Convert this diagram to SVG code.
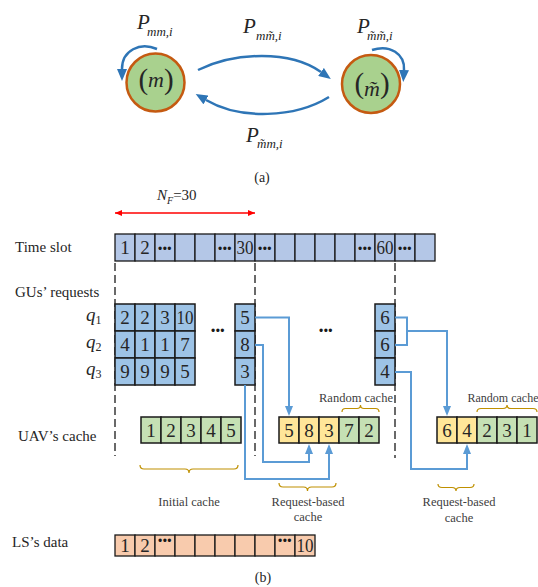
<svg xmlns="http://www.w3.org/2000/svg" width="538" height="587" viewBox="0 0 538 587" font-family="Liberation Serif, DejaVu Serif, serif">
<defs>
<style>
text{font-family:'Liberation Serif','DejaVu Serif',serif;fill:#262626}
.it{font-style:italic}
.lbl{font-size:15px}
.num{font-size:19px;text-anchor:middle}
.dots{font-family:'Liberation Sans',Arial,sans-serif;font-size:12px;text-anchor:middle;fill:#1a1a1a;letter-spacing:0.5px}
.small{font-size:12.5px;text-anchor:middle;fill:#404040}
.ts{fill:#b4c7e7;stroke:#1a1a1a;stroke-width:1.3}
.gu{fill:#9dc3e6;stroke:#1a1a1a;stroke-width:1.5}
.cg{fill:#c5e0b4;stroke:#1a1a1a;stroke-width:1.5}
.cy{fill:#ffe699;stroke:#1a1a1a;stroke-width:1.5}
.ls{fill:#f8cbad;stroke:#1a1a1a;stroke-width:1.3}
.dash{stroke:#1a1a1a;stroke-width:1.3;stroke-dasharray:8 4;fill:none}
.conn{fill:none;stroke:#5b9bd5;stroke-width:2}
.arcA{fill:none;stroke:#2e75b6;stroke-width:2.5}
.brace{fill:none;stroke:#bf9000;stroke-width:1.2}
.state{fill:#a9d18e;stroke:#c55a11;stroke-width:2.5}
</style>
<marker id="arrA" viewBox="0 0 12 10" refX="0" refY="5" markerWidth="12" markerHeight="10" markerUnits="userSpaceOnUse" orient="auto"><path d="M0,0 L12,5 L0,10 z" fill="#2e75b6"/></marker>
<marker id="arrB" viewBox="0 0 10 8" refX="0" refY="4" markerWidth="10" markerHeight="8" markerUnits="userSpaceOnUse" orient="auto"><path d="M0,0 L10,4 L0,8 z" fill="#5b9bd5"/></marker>
<marker id="arrR" viewBox="0 0 7 6" refX="7" refY="3" markerWidth="7" markerHeight="6" markerUnits="userSpaceOnUse" orient="auto-start-reverse"><path d="M0,0 L7,3 L0,6 z" fill="#ff0000"/></marker>
</defs>

<!-- (a) state diagram -->
<g id="state-m">
<circle class="state" cx="155.5" cy="82.5" r="29"/>
<text x="156" y="89" text-anchor="middle"><tspan font-size="29">(</tspan><tspan font-size="22" class="it" dy="-2">m</tspan><tspan font-size="29" dy="2">)</tspan></text>
</g>
<g id="state-mt">
<circle class="state" cx="371" cy="84" r="29"/>
<text x="372" y="93" text-anchor="middle"><tspan font-size="29">(</tspan><tspan font-size="22" class="it" dy="3">m&#771;</tspan><tspan font-size="29" dy="-3">)</tspan></text>
</g>

<g id="transitions">
<path class="arcA" d="M157,49 C140,42 122,50 122,69" marker-end="url(#arrA)"/>
<path class="arcA" d="M372,50 C390,44 405,54 404,70" marker-end="url(#arrA)"/>
<path class="arcA" d="M198,70 C235,52 290,50 321,72" marker-end="url(#arrA)"/>
<path class="arcA" d="M329,97 C295,118 240,120 206,100" marker-end="url(#arrA)"/>
</g>

<g id="labels-a">
<text x="137" y="28.5" class="it"><tspan font-size="21">P</tspan><tspan font-size="13" x="147" y="35.5">mm,i</tspan></text>
<text x="243" y="33" class="it"><tspan font-size="21">P</tspan><tspan font-size="13" x="256" y="40">mm&#771;,i</tspan></text>
<text x="357" y="32.5" class="it"><tspan font-size="21">P</tspan><tspan font-size="13" x="367" y="39.5">m&#771;m&#771;,i</tspan></text>
<text x="246" y="141.5" class="it"><tspan font-size="21">P</tspan><tspan font-size="13" x="257" y="148">m&#771;m,i</tspan></text>
<text x="262" y="182" font-size="14" text-anchor="middle">(a)</text>
</g>

<!-- (b) -->
<g id="nf-span">
<text x="157" y="200" class="it"><tspan font-size="15">N</tspan><tspan font-size="10" dy="4">F</tspan><tspan font-size="15" font-style="normal" dy="-4">=30</tspan></text>
<line x1="115" y1="213" x2="255" y2="213" stroke="#ff0000" stroke-width="1.3" marker-start="url(#arrR)" marker-end="url(#arrR)"/>
</g>

<g id="row-labels">
<text x="15" y="252" class="lbl">Time slot</text>
<text x="15" y="297" class="lbl">GUs’ requests</text>
<text x="18" y="441" class="lbl">UAV’s cache</text>
<text x="12" y="547" class="lbl">LS’s data</text>
<text x="86" y="321"><tspan font-size="19" class="it">q</tspan><tspan font-size="12" dy="3">1</tspan></text>
<text x="86" y="348"><tspan font-size="19" class="it">q</tspan><tspan font-size="12" dy="3">2</tspan></text>
<text x="86" y="375"><tspan font-size="19" class="it">q</tspan><tspan font-size="12" dy="3">3</tspan></text>
</g>

<g id="dashed-guides">
<line class="dash" x1="115" y1="263" x2="115" y2="456"/>
<line class="dash" x1="255" y1="263" x2="255" y2="456"/>
<line class="dash" x1="395" y1="263" x2="395" y2="458"/>
</g>

<g id="time-slots">
<rect class="ts" x="115" y="234" width="20" height="27"/>
<rect class="ts" x="135" y="234" width="20" height="27"/>
<rect class="ts" x="155" y="234" width="20" height="27"/>
<rect class="ts" x="175" y="234" width="20" height="27"/>
<rect class="ts" x="195" y="234" width="20" height="27"/>
<rect class="ts" x="215" y="234" width="20" height="27"/>
<rect class="ts" x="235" y="234" width="20" height="27"/>
<rect class="ts" x="255" y="234" width="20" height="27"/>
<rect class="ts" x="275" y="234" width="20" height="27"/>
<rect class="ts" x="295" y="234" width="20" height="27"/>
<rect class="ts" x="315" y="234" width="20" height="27"/>
<rect class="ts" x="335" y="234" width="20" height="27"/>
<rect class="ts" x="355" y="234" width="20" height="27"/>
<rect class="ts" x="375" y="234" width="20" height="27"/>
<rect class="ts" x="395" y="234" width="20" height="27"/>
<rect class="ts" x="415" y="234" width="20" height="27"/>
<text class="num" x="125" y="254">1</text>
<text class="num" x="145" y="254">2</text>
<text class="dots" x="165" y="253">•••</text>
<text class="dots" x="225" y="253">•••</text>
<text class="num" x="245" y="254" textLength="17" lengthAdjust="spacingAndGlyphs">30</text>
<text class="dots" x="265" y="253">•••</text>
<text class="dots" x="365" y="253">•••</text>
<text class="num" x="385" y="254" textLength="17" lengthAdjust="spacingAndGlyphs">60</text>
<text class="dots" x="405" y="253">•••</text>
</g>

<g id="requests-initial">
<rect class="gu" x="115" y="304" width="20" height="27"/>
<rect class="gu" x="135" y="304" width="20" height="27"/>
<rect class="gu" x="155" y="304" width="20" height="27"/>
<rect class="gu" x="175" y="304" width="20" height="27"/>
<rect class="gu" x="115" y="331" width="20" height="27"/>
<rect class="gu" x="135" y="331" width="20" height="27"/>
<rect class="gu" x="155" y="331" width="20" height="27"/>
<rect class="gu" x="175" y="331" width="20" height="27"/>
<rect class="gu" x="115" y="358" width="20" height="27"/>
<rect class="gu" x="135" y="358" width="20" height="27"/>
<rect class="gu" x="155" y="358" width="20" height="27"/>
<rect class="gu" x="175" y="358" width="20" height="27"/>
<text class="num" x="125" y="324">2</text>
<text class="num" x="145" y="324">2</text>
<text class="num" x="165" y="324">3</text>
<text class="num" x="185" y="324" textLength="17" lengthAdjust="spacingAndGlyphs">10</text>
<text class="num" x="125" y="351">4</text>
<text class="num" x="145" y="351">1</text>
<text class="num" x="165" y="351">1</text>
<text class="num" x="185" y="351">7</text>
<text class="num" x="125" y="378">9</text>
<text class="num" x="145" y="378">9</text>
<text class="num" x="165" y="378">9</text>
<text class="num" x="185" y="378">5</text>
</g>
<text class="dots" x="218" y="335">•••</text>
<text class="dots" x="326" y="335">•••</text>

<g id="requests-slot30">
<rect class="gu" x="235" y="304" width="20" height="27"/>
<rect class="gu" x="235" y="331" width="20" height="27"/>
<rect class="gu" x="235" y="358" width="20" height="27"/>
<text class="num" x="245" y="324">5</text>
<text class="num" x="245" y="351">8</text>
<text class="num" x="245" y="378">3</text>
</g>

<g id="requests-slot60">
<rect class="gu" x="375" y="304" width="20" height="27"/>
<rect class="gu" x="375" y="331" width="20" height="27"/>
<rect class="gu" x="375" y="358" width="20" height="27"/>
<text class="num" x="385" y="324">6</text>
<text class="num" x="385" y="351">6</text>
<text class="num" x="385" y="378">4</text>
</g>

<g id="cache-initial">
<rect class="cg" x="141" y="417" width="20" height="26"/>
<rect class="cg" x="161" y="417" width="20" height="26"/>
<rect class="cg" x="181" y="417" width="20" height="26"/>
<rect class="cg" x="201" y="417" width="20" height="26"/>
<rect class="cg" x="221" y="417" width="20" height="26"/>
<text class="num" x="151" y="436.5">1</text>
<text class="num" x="171" y="436.5">2</text>
<text class="num" x="191" y="436.5">3</text>
<text class="num" x="211" y="436.5">4</text>
<text class="num" x="231" y="436.5">5</text>
<path class="brace" d="M140,465 Q140,469 144,469 L185,469 Q189,469 189,473 Q189,469 193,469 L234,469 Q238,469 238,465"/>
<text class="small" x="189" y="506">Initial cache</text>
</g>

<g id="cache-slot30">
<rect class="cy" x="279" y="417" width="20" height="26"/>
<rect class="cy" x="299" y="417" width="20" height="26"/>
<rect class="cy" x="319" y="417" width="20" height="26"/>
<rect class="cg" x="339" y="417" width="20" height="26"/>
<rect class="cg" x="359" y="417" width="20" height="26"/>
<text class="num" x="289" y="436.5">5</text>
<text class="num" x="309" y="436.5">8</text>
<text class="num" x="329" y="436.5">3</text>
<text class="num" x="349" y="436.5">7</text>
<text class="num" x="369" y="436.5">2</text>
<path class="brace" d="M342,412 Q342,408.5 345.5,408.5 L357,408.5 Q360.5,408.5 360.5,405 Q360.5,408.5 364,408.5 L375.5,408.5 Q379,408.5 379,412"/>
<text class="small" x="356" y="402">Random cache</text>
<path class="brace" d="M279,483 Q279,487 283,487 L303.5,487 Q307.5,487 307.5,491 Q307.5,487 311.5,487 L332,487 Q336,487 336,483"/>
<text class="small" x="308" y="506">Request-based</text>
<text class="small" x="308" y="521">cache</text>
</g>

<g id="cache-slot60">
<rect class="cy" x="437" y="417" width="20" height="26"/>
<rect class="cy" x="457" y="417" width="20" height="26"/>
<rect class="cg" x="477" y="417" width="20" height="26"/>
<rect class="cg" x="497" y="417" width="20" height="26"/>
<rect class="cg" x="517" y="417" width="20" height="26"/>
<text class="num" x="447" y="436.5">6</text>
<text class="num" x="467" y="436.5">4</text>
<text class="num" x="487" y="436.5">2</text>
<text class="num" x="507" y="436.5">3</text>
<text class="num" x="527" y="436.5">1</text>
<path class="brace" d="M477,412 Q477,408.5 481,408.5 L503,408.5 Q507,408.5 507,405 Q507,408.5 511,408.5 L533,408.5 Q537,408.5 537,412"/>
<text class="small" x="503" y="402" style="font-size:12px">Random cache</text>
<path class="brace" d="M438,484 Q438,487.5 442,487.5 L452,487.5 Q456,487.5 456,491 Q456,487.5 460,487.5 L470,487.5 Q474,487.5 474,484"/>
<text class="small" x="459" y="506">Request-based</text>
<text class="small" x="459" y="522">cache</text>
</g>

<g id="connectors">
<path class="conn" d="M255,317.5 H289 V406" marker-end="url(#arrB)"/>
<path class="conn" d="M255,345 H263 V462 H309 V454" marker-end="url(#arrB)"/>
<path class="conn" d="M245,385 V479 H329 V454" marker-end="url(#arrB)"/>
<path class="conn" d="M395,317.5 H407 V345 H395"/>
<path class="conn" d="M407,331 H447 V406" marker-end="url(#arrB)"/>
<path class="conn" d="M395,372 H411 V469 H467 V454" marker-end="url(#arrB)"/>
</g>

<g id="ls-data">
<rect class="ls" x="115" y="535" width="20" height="21"/>
<rect class="ls" x="135" y="535" width="20" height="21"/>
<rect class="ls" x="155" y="535" width="20" height="21"/>
<rect class="ls" x="175" y="535" width="20" height="21"/>
<rect class="ls" x="195" y="535" width="20" height="21"/>
<rect class="ls" x="215" y="535" width="20" height="21"/>
<rect class="ls" x="235" y="535" width="20" height="21"/>
<rect class="ls" x="255" y="535" width="20" height="21"/>
<rect class="ls" x="275" y="535" width="20" height="21"/>
<rect class="ls" x="295" y="535" width="20" height="21"/>
<text class="num" x="125" y="552">1</text>
<text class="num" x="145" y="552">2</text>
<text class="dots" x="165" y="545">•••</text>
<text class="dots" x="285" y="545">•••</text>
<text class="num" x="305" y="552" textLength="17" lengthAdjust="spacingAndGlyphs">10</text>
</g>

<text x="263" y="582" font-size="14" text-anchor="middle">(b)</text>
</svg>
